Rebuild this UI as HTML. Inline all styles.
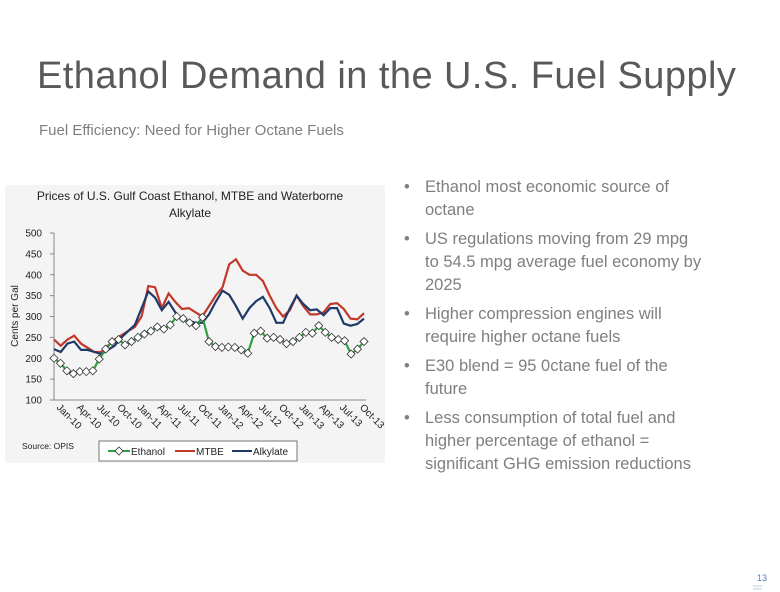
<!DOCTYPE html>
<html><head><meta charset="utf-8"><style>
body{margin:0;width:780px;height:592px;background:#fff;font-family:"Liberation Sans",sans-serif;position:relative;overflow:hidden}
.t{position:absolute;left:37px;top:55px;font-size:38px;color:#595959;letter-spacing:0.45px;white-space:nowrap}
.s{position:absolute;left:39px;top:122px;font-size:15px;color:#7f7f7f}
ul{position:absolute;left:400px;top:176px;margin:0;padding:0;list-style:none;width:325px}
li{position:relative;padding-left:25px;font-size:16.5px;line-height:23px;color:#7f7f7f;margin-bottom:6px}
li:before{content:"•";position:absolute;left:4px;top:0}
.pn{position:absolute;left:757px;top:573px;font-size:9px;color:#4f81bd}
</style></head><body>
<div class="t">Ethanol Demand in the U.S. Fuel Supply</div>
<div class="s">Fuel Efficiency: Need for Higher Octane Fuels</div>
<ul>
<li>Ethanol most economic source of<br>octane</li>
<li>US regulations moving from 29 mpg<br>to 54.5 mpg average fuel economy by<br>2025</li>
<li>Higher compression engines will<br>require higher octane fuels</li>
<li>E30 blend = 95 0ctane fuel of the<br>future</li>
<li>Less consumption of total fuel and<br>higher percentage of ethanol =<br>significant GHG emission reductions</li>
</ul>
<svg id="c" style="position:absolute;left:0;top:0" width="780" height="592"></svg>
<div class="pn">13</div>
<script>
var E=[200,188,170,163,168,168,170,198,222,240,245,232,240,250,258,265,275,270,280,300,295,285,278,298,240,228,226,227,226,220,212,260,265,248,250,245,235,240,250,262,260,278,262,250,245,242,210,222,240];
var M=[245,230,245,254,235,225,215,215,230,245,255,265,275,300,373,370,320,355,335,318,320,310,300,325,350,370,425,437,410,400,400,385,350,320,300,315,350,325,305,305,310,330,332,318,295,293,308];
var A=[222,215,235,240,220,220,215,210,220,230,250,265,280,320,360,345,315,335,310,290,290,285,285,305,335,362,352,325,295,320,337,347,320,285,285,320,350,330,315,317,303,320,320,283,278,282,295];
var x0=54,x1=364,y=function(v){return 400-(v-100)*167/400};
function pts(a){var s=(x1-x0)/(a.length-1);return a.map(function(v,i){return (x0+i*s).toFixed(1)+","+y(v).toFixed(1)}).join(" ")}
var h='<rect x="5" y="185" width="380" height="278" fill="#f4f4f4"/>';
h+='<text x="190" y="200" font-size="12" text-anchor="middle" fill="#222">Prices of U.S. Gulf Coast Ethanol, MTBE and Waterborne</text><text x="190" y="217" font-size="12" text-anchor="middle" fill="#222">Alkylate</text>';
for(var v=100;v<=500;v+=50){h+='<text x="42" y="'+(y(v)+3.5)+'" font-size="10" text-anchor="end" fill="#222">'+v+'</text><line x1="50" x2="54" y1="'+y(v)+'" y2="'+y(v)+'" stroke="#888"/>';}
h+='<line x1="54" y1="233" x2="54" y2="400" stroke="#888"/><line x1="54" y1="400" x2="366" y2="400" stroke="#888"/>';
h+='<text transform="translate(18,316) rotate(-90)" font-size="10" text-anchor="middle" fill="#222">Cents per Gal</text>';
var L=["Jan-10","Apr-10","Jul-10","Oct-10","Jan-11","Apr-11","Jul-11","Oct-11","Jan-12","Apr-12","Jul-12","Oct-12","Jan-13","Apr-13","Jul-13","Oct-13"];
var st=(x1-x0)/(M.length-1);
L.forEach(function(l,i){var x=x0+i*3*st+2;h+='<text transform="translate('+x+',408) rotate(45)" font-size="10" fill="#222">'+l+'</text>'});
h+='<polyline points="'+pts(M)+'" fill="none" stroke="#c0392b" stroke-width="2.2"/>';
h+='<polyline points="'+pts(A)+'" fill="none" stroke="#1f3a68" stroke-width="2.2"/>';
h+='<polyline points="'+pts(E)+'" fill="none" stroke="#2ea043" stroke-width="2.2"/>';
var se=(x1-x0)/(E.length-1);
E.forEach(function(v,i){var x=x0+i*se,yy=y(v);h+='<polygon points="'+x+','+(yy-4)+' '+(x+4)+','+yy+' '+x+','+(yy+4)+' '+(x-4)+','+yy+'" fill="#fff" stroke="#333" stroke-width="0.8"/>'});
h+='<text x="22" y="449" font-size="8.5" fill="#222">Source: OPIS</text>';
h+='<rect x="99" y="441" width="198" height="20" fill="#fff" stroke="#555" stroke-width="0.8"/>';
h+='<line x1="108" x2="130" y1="451" y2="451" stroke="#2ea043" stroke-width="2"/><polygon points="119,447 123,451 119,455 115,451" fill="#fff" stroke="#333" stroke-width="0.8"/><text x="131" y="455" font-size="10" fill="#222">Ethanol</text>';
h+='<line x1="175" x2="195" y1="451" y2="451" stroke="#c0392b" stroke-width="2"/><text x="196" y="455" font-size="10" fill="#222">MTBE</text>';
h+='<line x1="232" x2="252" y1="451" y2="451" stroke="#1f3a68" stroke-width="2"/><text x="253" y="455" font-size="10" fill="#222">Alkylate</text>';
h+='<line x1="753" x2="762" y1="586" y2="586" stroke="#bcd" /><line x1="753" x2="762" y1="589" y2="589" stroke="#bcd"/>';
document.getElementById("c").innerHTML=h;
</script>
</body></html>
